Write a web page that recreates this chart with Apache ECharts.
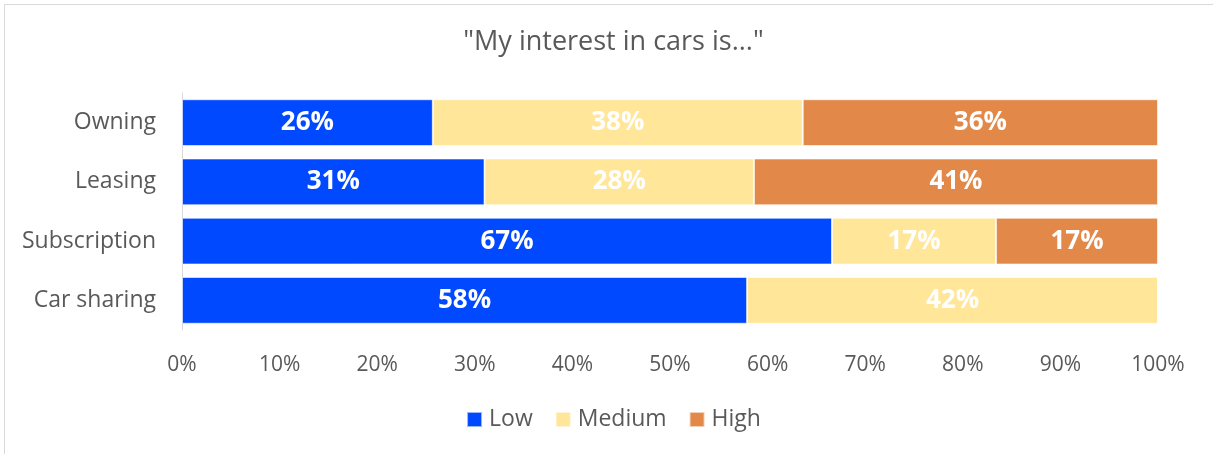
<!DOCTYPE html>
<html>
<head>
<meta charset="utf-8">
<script src="https://cdn.jsdelivr.net/npm/echarts@6/dist/echarts.min.js"></script>
<style>
  html, body { margin: 0; padding: 0; background: #fff; overflow: hidden; }
  #frame { position: absolute; left: 4px; top: 4px; width: 1230px; height: 480px; border: 1px solid #d9d9d9; }
  #chart { position: absolute; left: 0; top: 0; width: 1227px; height: 454px; }
</style>
</head>
<body>
<div id="frame"></div>
<div id="chart"></div>
<script>
// Survey answers, share of respondents per interest level (%)
const categories = ['Owning', 'Leasing', 'Subscription', 'Car sharing'];
const lowValues = [25.7, 31.0, 66.6, 57.9];
const mediumValues = [37.9, 27.6, 16.8, 42.1];
const highValues = [36.4, 41.4, 16.6, 0];
const seriesNames = ['Low', 'Medium', 'High'];
const seriesColors = ['#0049FF', '#FFE699', '#E2894A'];

const FONT = '"Open Sans", sans-serif';
const GREY = '#595959';

const chart = echarts.init(document.getElementById('chart'), null, { renderer: 'canvas' });

function makeSeries(name, values, color) {
  return {
    name: name,
    type: 'bar',
    stack: 'total',
    barWidth: '79%',
    data: values,
    itemStyle: { color: color, borderColor: 'rgba(255,255,255,0.6)', borderWidth: 1 },
    label: {
      show: true,
      position: 'inside',
      color: '#fff',
      fontFamily: FONT,
      fontWeight: 'bold',
      fontSize: 26,
      formatter: p => (p.value > 0 ? Math.round(p.value) + '%' : '')
    },
    emphasis: { disabled: true }
  };
}

chart.setOption({
  animation: false,
  backgroundColor: 'transparent',
  title: {
    text: '"My interest in cars is..."',
    left: 'center',
    top: 24,
    textStyle: { fontFamily: FONT, fontWeight: 'normal', fontSize: 27, color: GREY }
  },
  legend: {
    data: seriesNames,
    bottom: 18,
    left: 'center',
    icon: 'rect',
    itemWidth: 15,
    itemHeight: 15,
    itemGap: 22,
    textStyle: { fontFamily: FONT, fontSize: 23, color: GREY, padding: [0, 0, 0, 2] }
  },
  grid: { left: 182, right: 69, top: 93, bottom: 124, containLabel: false },
  xAxis: {
    type: 'value',
    min: 0,
    max: 100,
    interval: 10,
    axisLine: { show: false },
    axisTick: { show: false },
    splitLine: { show: false },
    axisLabel: { formatter: '{value}%', fontFamily: FONT, fontSize: 21, color: GREY, margin: 25 }
  },
  yAxis: {
    type: 'category',
    inverse: true,
    data: categories,
    axisLine: { show: true, lineStyle: { color: '#d9d9d9', width: 1 } },
    axisTick: { show: false },
    axisLabel: { fontFamily: FONT, fontSize: 23, color: GREY, margin: 26 }
  },
  series: [
    makeSeries(seriesNames[0], lowValues, seriesColors[0]),
    makeSeries(seriesNames[1], mediumValues, seriesColors[1]),
    makeSeries(seriesNames[2], highValues, seriesColors[2])
  ]
});
</script>
</body>
</html>
